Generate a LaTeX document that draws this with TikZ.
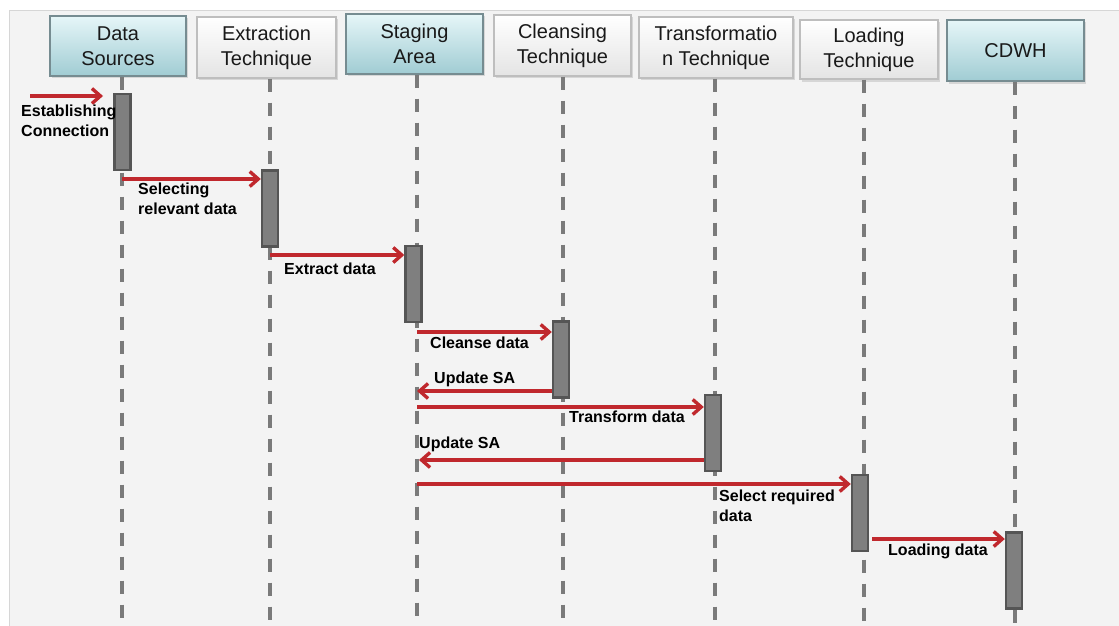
\documentclass[tikz,border=0pt]{standalone}
\usepackage{fontspec}
\setmainfont{Liberation Sans}
\usetikzlibrary{arrows.meta,shadows}
\definecolor{panelbg}{RGB}{243,243,243}
\definecolor{paneledge}{RGB}{214,214,214}
\definecolor{tealtop}{RGB}{230,246,248}
\definecolor{tealbot}{RGB}{160,204,211}
\definecolor{tealedge}{RGB}{118,140,145}
\definecolor{greybot}{RGB}{228,228,228}
\definecolor{greyedge}{RGB}{190,190,190}
\definecolor{lifegrey}{RGB}{122,122,122}
\definecolor{actfill}{RGB}{127,127,127}
\definecolor{actedge}{RGB}{85,85,85}
\definecolor{arrowred}{RGB}{192,40,45}
\begin{document}
\begin{tikzpicture}[x=1pt,y=-1pt,
  hdr/.style={draw, line width=1.2pt, align=center, inner sep=0pt,
    font=\fontsize{20}{25}\selectfont, text=black!90,
    drop shadow={shadow xshift=2pt, shadow yshift=-2.5pt, opacity=0.25}},
  hdrteal/.style={hdr, draw=tealedge, top color=tealtop, bottom color=tealbot},
  hdrplain/.style={hdr, draw=greyedge, top color=white, bottom color=greybot},
  life/.style={draw=lifegrey, line width=3.3pt, dash pattern=on 13pt off 11pt},
  act/.style={draw=actedge, fill=actfill, line width=2.4pt,
    minimum width=16pt, minimum height=76pt, inner sep=0pt},
  msg/.style={draw=arrowred, line width=3.4pt,
    -{Straight Barb[length=8.5pt,width=15pt]}},
  lbl/.style={font=\bfseries\fontsize{16}{20}\selectfont, align=left,
    inner sep=0pt, anchor=west}
]
\useasboundingbox (0,0) rectangle (1119,626);

% background panel
\fill[panelbg] (9,11) rectangle (1119,626);
\draw[paneledge, line width=1pt] (9,626) -- (9,11) -- (1119,11);

% lifeline heads
\node[hdrteal,  minimum width=136pt, minimum height=60pt] (ds) at (118,46)    {Data\\Sources};
\node[hdrplain, minimum width=139pt, minimum height=61pt] (et) at (266.5,47.5) {Extraction\\Technique};
\node[hdrteal,  minimum width=137pt, minimum height=60pt] (sa) at (414.5,44)  {Staging\\Area};
\node[hdrplain, minimum width=137pt, minimum height=61pt] (ct) at (562.5,45.5) {Cleansing\\Technique};
\node[hdrplain, minimum width=154pt, minimum height=61pt] (tt) at (716,47.5)  {Transformatio\\n Technique};
\node[hdrplain, minimum width=138pt, minimum height=59pt] (lt) at (869,49.5)  {Loading\\Technique};
\node[hdrteal,  minimum width=137pt, minimum height=61pt] (cd) at (1015.5,50.5) {CDWH};

% lifeline ends
\coordinate (l-ds) at (122,626);
\coordinate (l-et) at (270,626);
\coordinate (l-sa) at (417,626);
\coordinate (l-ct) at (563,626);
\coordinate (l-tt) at (715,626);
\coordinate (l-lt) at (864,626);
\coordinate (l-cd) at (1015,626);

\begin{scope}
\clip (9,11) rectangle (1119,626);
\draw[life] (l-ds |- ds.south) -- (l-ds);
\draw[life] (l-et |- et.south) -- (l-et);
\draw[life] (l-sa |- sa.south) -- (l-sa);
\draw[life] (l-ct |- ct.south) -- (l-ct);
\draw[life] (l-tt |- tt.south) -- (l-tt);
\draw[life] (l-lt |- lt.south) -- (l-lt);
\draw[life] (l-cd |- cd.south) -- (l-cd);
\end{scope}

% activation bars
\node[act] (a-ds) at (122.5,132) {};
\node[act] (a-et) at (270,208.5) {};
\node[act] (a-sa) at (413.5,284) {};
\node[act] (a-ct) at (561,359.5) {};
\node[act] (a-tt) at (713,433) {};
\node[act] (a-lt) at (860,513) {};
\node[act] (a-cd) at (1014,570.5) {};

% messages
\coordinate (m1s) at (30,96);
\coordinate (m1e) at (103,96);
\draw[msg] (m1s) -- (m1e);
\node[lbl] (t1) at (21,120.5) {Establishing\\Connection};

\coordinate (m2s) at (122,179);
\draw[msg] (m2s) -- (m2s -| a-et.west);
\node[lbl] (t2) at (138,199) {Selecting\\relevant data};

\coordinate (m3s) at (270,255);
\draw[msg] (m3s) -- (m3s -| a-sa.west);
\node[lbl] (t3) at (284,269) {Extract data};

\coordinate (m4s) at (417,332);
\draw[msg] (m4s) -- (m4s -| a-ct.west);
\node[lbl] (t4) at (430,343) {Cleanse data};

\coordinate (m5e) at (417,391);
\draw[msg] (m5e -| a-ct.west) -- (m5e);
\node[lbl] (t5) at (434,379) {Update SA};

\coordinate (m6s) at (417,407);
\draw[msg] (m6s) -- (m6s -| a-tt.west);
\node[lbl] (t6) at (569,417) {Transform data};

\coordinate (m7e) at (419,460);
\draw[msg] (m7e -| a-tt.west) -- (m7e);
\node[lbl] (t7) at (419,444) {Update SA};

\coordinate (m8s) at (417,484);
\draw[msg] (m8s) -- (m8s -| a-lt.west);
\node[lbl] (t8) at (719,506) {Select required\\data};

\coordinate (m9s) at (872,539);
\draw[msg] (m9s) -- (m9s -| a-cd.west);
\node[lbl] (t9) at (888,551) {Loading data};
\end{tikzpicture}
\end{document}
